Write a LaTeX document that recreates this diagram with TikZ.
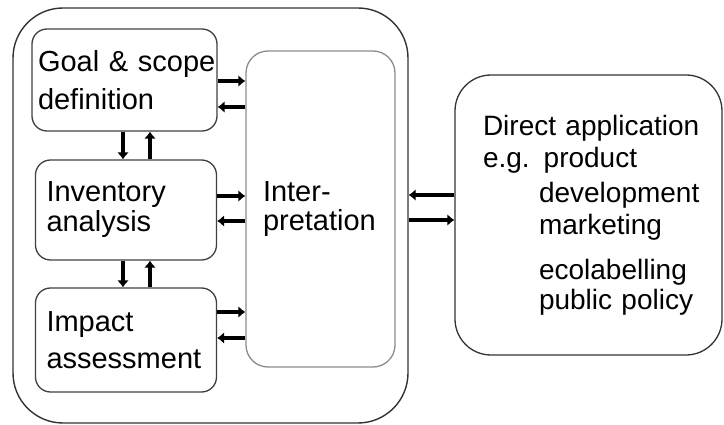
\documentclass[tikz,border=0pt]{standalone}
\usepackage{fontspec}
\setmainfont{Liberation Sans}
\usetikzlibrary{arrows.meta}

\tikzset{
    box/.style={draw=black!75, line width=1.3pt, rounded corners=15pt, inner ysep=0pt, align=left},
    arr/.style={line width=3.2pt, -{Latex[length=7pt,width=12pt]}},
}

\begin{document}
\begin{tikzpicture}[x=1pt,y=-1pt]
    \useasboundingbox (0,0) rectangle (724,425);
    %phases of the study
    \node[draw=black!80, line width=1.4pt, rounded corners=50pt, minimum width=395pt, minimum height=415pt] (frame) at (210.5,215.5) {};
    \node[box, inner xsep=6pt, text width=173pt, minimum height=102pt, font=\fontsize{29}{38}\selectfont] (goal) at (124.5,80) {\mbox{Goal \& scope}\\definition};
    \node[box, inner xsep=11pt, text width=159pt, minimum height=100pt, font=\fontsize{29}{30}\selectfont] (inv) at (126,210) {Inventory\\analysis};
    \node[box, inner xsep=11pt, text width=159pt, minimum height=104pt, font=\fontsize{29}{37}\selectfont] (impact) at (126,340) {Impact\\assessment};
    \node[box, draw=black!45, rounded corners=22pt, inner xsep=17pt, text width=115pt, minimum height=316pt, font=\fontsize{29}{29}\selectfont] (interp) at (320.5,209) {Inter-\\pretation};

    %applications
    \node[box, draw=black!80, rounded corners=36pt, inner xsep=28pt, text width=211pt, minimum height=280pt, font=\fontsize{28}{32}\selectfont] (app) at (588.5,215) {\mbox{Direct application}\\e.g. product\\[3pt]\hphantom{e.g.\ }development\\\hphantom{e.g.\ }marketing\\[13pt]\hphantom{e.g.\ }ecolabelling\\[-2pt]\hphantom{e.g.\ }public policy};

    %to and from interpretation
    \draw[arr] ([yshift=-1pt]goal.east) -- ([yshift=-1pt]goal.east -| interp.west);
    \draw[arr] ([yshift=-27pt]goal.east -| interp.west) -- ([yshift=-27pt]goal.east);
    \draw[arr] ([yshift=14pt]inv.east) -- ([yshift=14pt]inv.east -| interp.west);
    \draw[arr] ([yshift=-11pt]inv.east -| interp.west) -- ([yshift=-11pt]inv.east);
    \draw[arr] ([yshift=28pt]impact.east) -- ([yshift=28pt]impact.east -| interp.west);
    \draw[arr] ([yshift=2pt]impact.east -| interp.west) -- ([yshift=2pt]impact.east);

    %between the phases
    \draw[arr] ([xshift=-1.5pt]goal.south) -- ([xshift=-1.5pt]goal.south |- inv.north);
    \draw[arr] ([xshift=25.5pt]goal.south |- inv.north) -- ([xshift=25.5pt]goal.south);
    \draw[arr] ([xshift=-3pt]inv.south) -- ([xshift=-3pt]inv.south |- impact.north);
    \draw[arr] ([xshift=24pt]inv.south |- impact.north) -- ([xshift=24pt]inv.south);

    %frame and applications
    \draw[arr] ([yshift=20pt]app.west) -- ([yshift=20pt]app.west -| frame.east);
    \draw[arr] ([yshift=-5pt]app.west -| frame.east) -- ([yshift=-5pt]app.west);
\end{tikzpicture}
\end{document}
